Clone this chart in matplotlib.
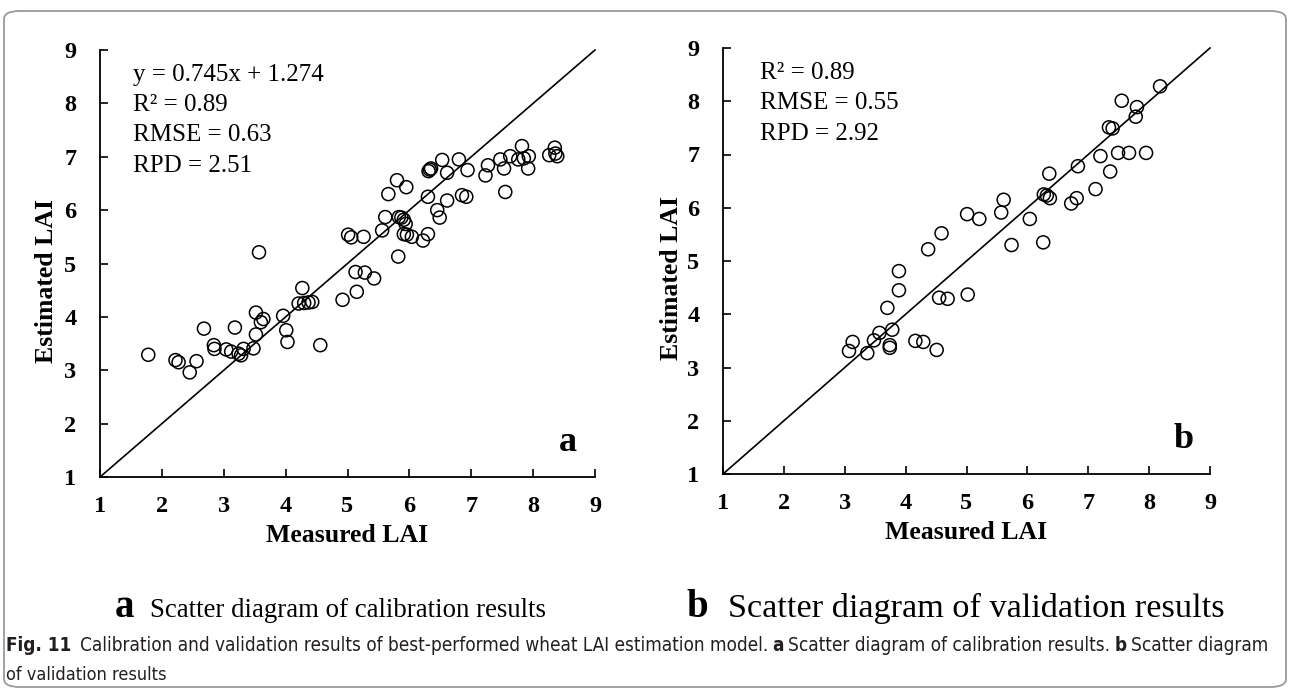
import matplotlib.pyplot as plt
from matplotlib.patches import FancyBboxPatch

W, H = 1290, 689

# calibration set (panel a)
cal_measured = [1.78, 2.22, 2.27, 2.45, 2.56, 2.68, 2.84, 2.85, 3.04, 3.12, 3.18, 3.24,
                3.28, 3.32, 3.48, 3.52, 3.52, 3.60, 3.64, 3.57, 3.96, 4.01, 4.03, 4.27,
                4.21, 4.30, 4.37, 4.43, 4.56, 4.92, 5.13, 5.28, 5.15, 5.43, 5.01, 5.06,
                5.26, 5.56, 5.61, 5.66, 5.80, 5.95, 5.83, 5.87, 5.91, 5.94, 5.91, 5.96,
                6.04, 5.82, 6.22, 6.30, 6.30, 6.31, 6.33, 6.35, 6.45, 6.49, 6.53, 6.61,
                6.61, 6.80, 6.85, 6.92, 6.94, 7.23, 7.27, 7.47, 7.53, 7.55, 7.63, 7.76,
                7.85, 7.82, 7.93, 7.92, 8.26, 8.35, 8.36, 8.39]
cal_estimated = [3.29, 3.19, 3.15, 2.96, 3.17, 3.78, 3.47, 3.40, 3.39, 3.35, 3.80, 3.31,
                 3.28, 3.40, 3.41, 3.67, 4.08, 3.90, 3.96, 5.21, 4.02, 3.75, 3.53, 4.54,
                 4.25, 4.26, 4.27, 4.28, 3.47, 4.32, 4.84, 4.83, 4.47, 4.72, 5.54, 5.49,
                 5.50, 5.62, 5.87, 6.30, 6.56, 6.43, 5.87, 5.86, 5.82, 5.74, 5.55, 5.54,
                 5.50, 5.13, 5.43, 5.55, 6.25, 6.73, 6.76, 6.78, 6.00, 5.86, 6.94, 6.70,
                 6.18, 6.95, 6.28, 6.25, 6.75, 6.65, 6.84, 6.95, 6.78, 6.34, 7.01, 6.95,
                 6.97, 7.20, 7.01, 6.78, 7.03, 7.17, 7.06, 7.01]

# validation set (panel b)
val_measured = [3.07, 3.13, 3.37, 3.48, 3.57, 3.74, 3.74, 3.78, 3.70, 3.89, 3.89, 4.16,
                4.29, 4.51, 4.37, 4.55, 4.69, 4.59, 5.02, 5.01, 5.21, 5.57, 5.61, 5.74,
                6.04, 6.26, 6.27, 6.32, 6.37, 6.36, 6.72, 6.81, 6.83, 7.12, 7.20, 7.36,
                7.34, 7.40, 7.49, 7.67, 7.95, 7.55, 7.80, 7.78, 8.18]
val_estimated = [3.31, 3.48, 3.27, 3.51, 3.65, 3.42, 3.37, 3.71, 4.12, 4.45, 4.81, 3.50,
                 3.48, 3.33, 5.22, 4.31, 4.29, 5.52, 4.37, 5.88, 5.79, 5.91, 6.15, 5.30,
                 5.79, 5.35, 6.25, 6.23, 6.18, 6.64, 6.08, 6.18, 6.78, 6.35, 6.97, 6.68,
                 7.51, 7.49, 7.03, 7.03, 7.03, 8.01, 7.89, 7.71, 8.28]

ticks = [1, 2, 3, 4, 5, 6, 7, 8, 9]
cal_stats = ['y = 0.745x + 1.274', 'R² = 0.89', 'RMSE = 0.63', 'RPD = 2.51']
val_stats = ['R² = 0.89', 'RMSE = 0.55', 'RPD = 2.92']

plt.rcParams['font.family'] = ['Liberation Serif', 'DejaVu Serif']

fig = plt.figure(figsize=(12.9, 6.89), dpi=100)


def box(x0, x1, ytop, ybot):
    return [x0 / W, 1 - ybot / H, (x1 - x0) / W, (ybot - ytop) / H]


def panel(ax, xs, ys, stats, letter, stat_x, stat_y0):
    ax.plot(ticks[::8], ticks[::8], color='black', lw=1.2, zorder=1, clip_on=False)
    ax.scatter(xs, ys, s=88, facecolors='none', edgecolors='black',
               linewidths=1.1, zorder=2, clip_on=False)
    ax.set_xlim(1, 9)
    ax.set_ylim(1, 9)
    ax.set_xticks(ticks)
    ax.set_yticks(ticks)
    ax.set_xticklabels(ticks, fontweight='bold', fontsize=17.5)
    ax.set_yticklabels(ticks, fontweight='bold', fontsize=17.5)
    for s in ['top', 'right']:
        ax.spines[s].set_visible(False)
    for s in ['left', 'bottom']:
        ax.spines[s].set_linewidth(1.3)
    ax.tick_params(axis='both', direction='in', length=6, width=1.2)
    ax.tick_params(axis='y', pad=17)
    ax.tick_params(axis='x', pad=14)
    ax.set_xlabel('Measured LAI', fontsize=18.5, fontweight='bold', labelpad=5)
    ax.set_ylabel('Estimated LAI', fontsize=18.5, fontweight='bold', labelpad=3)
    for i, s in enumerate(stats):
        ax.text(stat_x, stat_y0 - i * 0.57, s, fontsize=18, va='center', ha='left')
    ax.text(8.57, 1.64, letter, fontsize=26, fontweight='bold', va='center', ha='center')


ax_a = fig.add_axes(box(100, 595, 50, 477))
panel(ax_a, cal_measured, cal_estimated, cal_stats, 'a', 1.53, 8.54)
ax_a.yaxis.set_label_coords(-0.085, 0.46)

ax_b = fig.add_axes(box(723, 1210, 48, 474))
panel(ax_b, val_measured, val_estimated, val_stats, 'b', 1.6, 8.53)
ax_b.yaxis.set_label_coords(-0.082, 0.46)

# rounded frame around the figure
frame = FancyBboxPatch((4 / W, 2 / H), 1282 / W, 676 / H,
                       boxstyle='round,pad=0,rounding_size=0.012',
                       transform=fig.transFigure, fill=False,
                       edgecolor='#9a9a9a', lw=1.3)
fig.patches.append(frame)

renderer = fig.canvas.get_renderer()


def text_run(x_px, y_px, pieces, width=None):
    # pieces: (string, style, gap after in px); scaled so the run is `width` px wide
    if width is not None:
        total = 0
        for s, kw, gap in pieces:
            t = fig.text(0, 0, s, **kw)
            total += t.get_window_extent(renderer).width + gap
            t.remove()
        k = width / total
        pieces = [(s, dict(kw, fontsize=kw['fontsize'] * k), gap * k) for s, kw, gap in pieces]
    x = x_px
    for s, kw, gap in pieces:
        t = fig.text(x / W, 1 - y_px / H, s, ha='left', va='baseline', **kw)
        x += t.get_window_extent(renderer).width + gap


# sub-figure captions
text_run(115, 617, [('a', dict(fontsize=28, fontweight='bold'), 8)])
text_run(150, 617, [('Scatter diagram of calibration results', dict(fontsize=19), 0)], width=395)
text_run(686, 617, [('b', dict(fontsize=28, fontweight='bold'), 8)])
text_run(728, 617, [('Scatter diagram of validation results', dict(fontsize=22), 0)], width=495)

# figure caption
cap = ['DejaVu Sans']
reg = dict(fontsize=13, family=cap, fontstretch='condensed', color='#231f20')
bold = dict(reg, fontweight='bold')
text_run(6, 651, [('Fig. 11', bold, 8),
                  ('Calibration and validation results of best-performed wheat LAI estimation model.', reg, 4),
                  ('a', bold, 4),
                  ('Scatter diagram of calibration results.', reg, 4),
                  ('b', bold, 4),
                  ('Scatter diagram', reg, 0)], width=1266)
text_run(6, 680, [('of validation results', reg, 0)])

fig.savefig('out.png', dpi=100)
